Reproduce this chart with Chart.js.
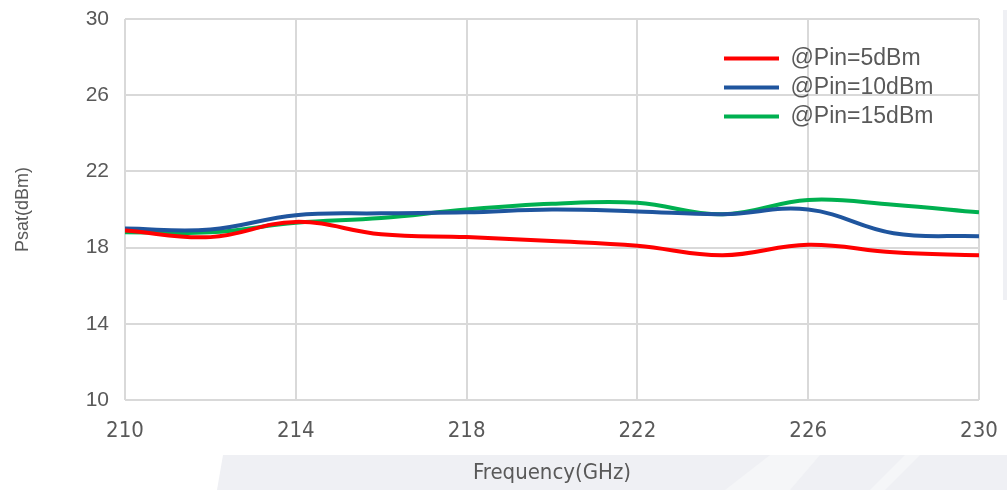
<!DOCTYPE html>
<html>
<head>
<meta charset="utf-8">
<script src="https://cdn.jsdelivr.net/npm/chart.js@4/dist/chart.umd.min.js"></script>
<style>
  html, body { margin: 0; padding: 0; background: #fff; }
  #wrap { width: 1007px; height: 490px; }
</style>
</head>
<body>
<div id="wrap"><canvas id="psatChart" width="1007" height="490"></canvas></div>
<script>
// frequency points (GHz)
var freq = [210, 212, 214, 216, 218, 220, 222, 224, 226, 228, 230];
// Psat readings (dBm)
var pin5 = [18.9, 18.55, 19.35, 18.7, 18.55, 18.35, 18.1, 17.6, 18.15, 17.75, 17.6];
var pin10 = [19.0, 18.95, 19.7, 19.8, 19.85, 20.0, 19.9, 19.75, 20.0, 18.75, 18.6];
var pin15 = [18.8, 18.8, 19.3, 19.55, 20.0, 20.3, 20.35, 19.75, 20.5, 20.25, 19.85];
var seriesNames = ["@Pin=5dBm", "@Pin=10dBm", "@Pin=15dBm"];
var seriesColors = ['#ff0000', '#1f559e', '#00b050'];
var xTicks = [210, 214, 218, 222, 226, 230];
var yTicks = [10, 14, 18, 22, 26, 30];

function toPoints(vals) {
    return freq.map(function (f, i) { return { x: f, y: vals[i] }; });
}

// light page decoration behind the chart
var backdrop = {
    id: 'backdrop',
    beforeDraw: function (chart) {
        var c = chart.ctx;
        c.save();
        c.fillStyle = '#ffffff';
        c.fillRect(0, 0, chart.width, chart.height);
        c.fillStyle = '#eff0f4';
        c.beginPath();
        c.moveTo(223, 455); c.lineTo(1007, 455); c.lineTo(1007, 490); c.lineTo(217, 490);
        c.closePath(); c.fill();
        c.fillRect(1003, 10, 4, 290);
        c.fillStyle = '#f5f6f8';
        c.beginPath();
        c.moveTo(770, 455); c.lineTo(820, 455); c.lineTo(790, 490); c.lineTo(725, 490);
        c.closePath(); c.fill();
        c.beginPath();
        c.moveTo(905, 455); c.lineTo(920, 455); c.lineTo(885, 490); c.lineTo(870, 490);
        c.closePath(); c.fill();
        c.restore();
    }
};

// move the legend to the upper right of the plot
var legendSpot = {
    id: 'legendSpot',
    afterLayout: function (chart) {
        var lg = chart.legend;
        if (!lg) return;
        var dx = 718 - lg.left;
        var dy = (chart.chartArea.top + 22) - lg.top;
        lg.left += dx; lg.right += dx;
        lg.top += dy; lg.bottom += dy;
    }
};

var ctx = document.getElementById('psatChart').getContext('2d');
var datasets = [pin5, pin10, pin15].map(function (vals, i) {
    return {
        label: seriesNames[i],
        data: toPoints(vals),
        borderColor: seriesColors[i],
        backgroundColor: seriesColors[i],
        borderWidth: 4,
        pointRadius: 0,
        tension: 0.4,
        fill: false
    };
});

var myChart = new Chart(ctx, {
    type: 'line',
    data: { datasets: datasets },
    plugins: [backdrop, legendSpot],
    options: {
        responsive: false,
        animation: false,
        layout: { padding: { top: 19, right: 28, left: 0, bottom: 0 } },
        plugins: {
            tooltip: { enabled: false },
            legend: {
                position: 'chartArea',
                align: 'start',
                labels: {
                    usePointStyle: true,
                    pointStyle: 'line',
                    pointStyleWidth: 55,
                    color: '#595959',
                    padding: 6,
                    font: { family: 'Liberation Sans', size: 23 }
                }
            }
        },
        scales: {
            x: {
                type: 'linear',
                min: 210,
                max: 230,
                afterBuildTicks: function (axis) {
                    axis.ticks = xTicks.map(function (v) { return { value: v }; });
                },
                afterFit: function (axis) {
                    axis.height = 90;
                    axis.paddingLeft = 0;
                    axis.paddingRight = 0;
                },
                grid: { color: '#d9d9d9', lineWidth: 2, drawTicks: false },
                border: { display: false },
                ticks: {
                    color: '#595959',
                    padding: 18,
                    maxRotation: 0,
                    font: { family: 'DejaVu Sans Condensed, Liberation Sans', size: 22 }
                },
                title: {
                    display: true,
                    text: 'Frequency(GHz)',
                    color: '#595959',
                    padding: { top: 8 },
                    font: { family: 'DejaVu Sans Condensed, Liberation Sans', size: 22 }
                }
            },
            y: {
                min: 10,
                max: 30,
                afterBuildTicks: function (axis) {
                    axis.ticks = yTicks.map(function (v) { return { value: v }; });
                },
                afterFit: function (axis) {
                    axis.width = 125;
                    axis.paddingTop = 0;
                    axis.paddingBottom = 0;
                },
                grid: { color: '#d9d9d9', lineWidth: 2, drawTicks: false },
                border: { display: false },
                ticks: {
                    color: '#595959',
                    padding: 16,
                    font: { family: 'Liberation Sans', size: 21 }
                },
                title: {
                    display: true,
                    text: 'Psat(dBm)',
                    color: '#595959',
                    padding: { top: 12, bottom: 0 },
                    font: { family: 'Liberation Sans', size: 18 }
                }
            }
        }
    }
});
</script>
</body>
</html>
